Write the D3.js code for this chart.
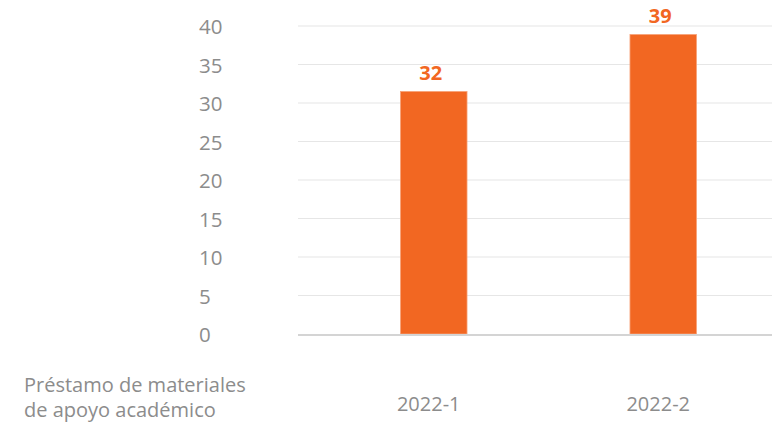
<!DOCTYPE html>
<html>
<head>
<meta charset="utf-8">
<script src="https://cdn.jsdelivr.net/npm/d3@7"></script>
<style>
  html, body { margin: 0; padding: 0; background: #fff; }
  svg { display: block; }
</style>
</head>
<body>
<svg id="chart" width="772" height="422"></svg>
<script>
const categories = ["2022-1", "2022-2"];
const values = [31.5, 38.9];
const yTicks = [0, 5, 10, 15, 20, 25, 30, 35, 40];
const rowLabelLines = ["Préstamo de materiales", "de apoyo académico"];

const svg = d3.select("#chart");
const font = "'Open Sans', 'Noto Sans', sans-serif";

const y = d3.scaleLinear().domain([0, 40]).range([334, 26]);
const x = d3.scaleBand().domain(categories).range([319, 778]).paddingInner(0.71).paddingOuter(0.355);

// gridlines
svg.append("g").selectAll("line").data(yTicks.filter(d => d !== 0)).join("line")
  .attr("x1", 298).attr("x2", 772)
  .attr("y1", d => y(d)).attr("y2", d => y(d))
  .attr("stroke", "#e6e6e6").attr("stroke-width", 1.2);

// y axis labels
svg.append("g").selectAll("text").data(yTicks).join("text")
  .attr("x", 199).attr("y", d => y(d) + 1)
  .attr("dy", "0.36em")
  .attr("font-family", font).attr("font-size", 20.5)
  .attr("fill", "#8c8c8c")
  .text(d => d);

// bars
svg.append("g").selectAll("rect").data(values).join("rect")
  .attr("x", (d, i) => x(categories[i]))
  .attr("y", d => y(d))
  .attr("width", x.bandwidth())
  .attr("height", d => y(0) - y(d))
  .attr("fill", "#f26722")
  .attr("stroke", "#f7a37a").attr("stroke-width", 0.8);

// baseline
svg.append("line")
  .attr("x1", 298).attr("x2", 772).attr("y1", y(0) + 1).attr("y2", y(0) + 1)
  .attr("stroke", "#d4d4d4").attr("stroke-width", 2);

// value labels
svg.append("g").selectAll("text").data(values).join("text")
  .attr("x", (d, i) => x(categories[i]) + x.bandwidth() / 2 - 3)
  .attr("y", d => y(d) - 11)
  .attr("text-anchor", "middle")
  .attr("font-family", font).attr("font-size", 20).attr("font-weight", "bold")
  .attr("fill", "#f26722")
  .text(d => d3.format(".0f")(d));

// x category labels
svg.append("g").selectAll("text").data(categories).join("text")
  .attr("x", d => x(d) + x.bandwidth() / 2 - 5)
  .attr("y", 404)
  .attr("dy", "0.36em")
  .attr("text-anchor", "middle")
  .attr("font-family", font).attr("font-size", 20)
  .attr("fill", "#8c8c8c")
  .text(d => d);

// row label
svg.append("g").selectAll("text").data(rowLabelLines).join("text")
  .attr("x", 24)
  .attr("y", (d, i) => 385 + i * 25)
  .attr("dy", "0.36em")
  .attr("font-family", font).attr("font-size", 20)
  .attr("fill", "#8c8c8c")
  .text(d => d);
</script>
</body>
</html>
